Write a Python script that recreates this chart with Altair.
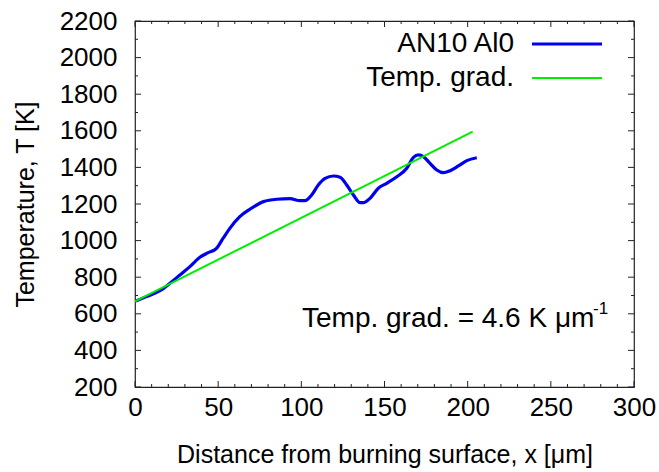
import altair as alt
import pandas as pd

# ---- data ----
series_names = ["AN10 Al0", "Temp. grad."]
curve_x = [0.6, 7, 15, 21, 27, 33, 39, 44, 49, 53, 57, 63, 69, 77.2, 85.2, 93.2, 99.2, 102.2,
           106.2, 110.2, 114.3, 119.3, 123.3, 127.3, 131.3, 135.3, 137.3, 141.3, 146.3, 151.3,
           157.4, 163.4, 167.4, 170.4, 173.4, 177.4, 181.4, 185.4, 189.4, 194.4, 199.5, 205.5]
curve_T = [670, 694, 726, 767, 812, 858, 909, 934, 958, 1013, 1067, 1131, 1171, 1213, 1226, 1229,
           1218, 1218, 1249, 1304, 1340, 1353, 1346, 1304, 1249, 1207, 1207, 1231, 1286, 1313,
           1349, 1395, 1455, 1468, 1459, 1422, 1386, 1371, 1382, 1408, 1437, 1453]
grad_x = [0, 203]
grad_T = [668, 1595]

x_major = [0, 50, 100, 150, 200, 250, 300]
x_minor = [v for v in range(0, 301, 10) if v % 50 != 0]
y_major = list(range(200, 2201, 200))
y_minor = list(range(300, 2200, 200))

W, H = 499, 366
FONT = "Liberation Sans"
FS_TICK = 26
FS_TITLE = 25
FS_TEXT = 28
BLUE = "#0000ee"
GREEN = "#00ee00"

xs = alt.Scale(domain=[0, 300], nice=False, zero=False)
ys = alt.Scale(domain=[200, 2200], nice=False, zero=False)

AX = alt.Axis(values=x_major, title="Distance from burning surface, x [μm]",
              ticks=False, domain=False, grid=False, labelPadding=7,
              titlePadding=22, format="d", labelOverlap=False, labelFlush=False)
AY = alt.Axis(values=y_major, title="Temperature, T [K]",
              ticks=False, domain=False, grid=False, labelPadding=18,
              titlePadding=21, format="d", labelOverlap=False, labelFlush=False)

def X():
    return alt.X("x:Q", scale=xs, axis=AX)

def Y():
    return alt.Y("T:Q", scale=ys, axis=AY)

df_curve = pd.DataFrame({"x": curve_x, "T": curve_T})
df_grad = pd.DataFrame({"x": grad_x, "T": grad_T})

curve = alt.Chart(df_curve).mark_line(color=BLUE, strokeWidth=3.2, interpolate="monotone").encode(
    x=X(), y=Y())
grad = alt.Chart(df_grad).mark_line(color=GREEN, strokeWidth=2).encode(x=X(), y=Y())

# inward ticks on all four sides
dxM = pd.DataFrame({"x": x_major})
dxm = pd.DataFrame({"x": x_minor})
dyM = pd.DataFrame({"T": y_major})
dym = pd.DataFrame({"T": y_minor})
TC = "#222222"

def xticks(d, L):
    b = alt.Chart(d).mark_rule(color=TC, strokeWidth=1).encode(
        x=X(), y=alt.value(H), y2=alt.value(H - L))
    t = alt.Chart(d).mark_rule(color=TC, strokeWidth=1).encode(
        x=X(), y=alt.value(0), y2=alt.value(L))
    return [b, t]

def yticks(d, L):
    l = alt.Chart(d).mark_rule(color=TC, strokeWidth=1).encode(
        y=Y(), x=alt.value(0), x2=alt.value(L))
    r = alt.Chart(d).mark_rule(color=TC, strokeWidth=1).encode(
        y=Y(), x=alt.value(W), x2=alt.value(W - L))
    return [l, r]

ticks = xticks(dxM, 6) + xticks(dxm, 3) + yticks(dyM, 6) + yticks(dym, 3)

# gnuplot-style key
key_y = [23, 57]
key_text1 = alt.Chart(pd.DataFrame({"name": [series_names[0]]})).mark_text(
    align="right", baseline="middle", font=FONT, fontSize=FS_TEXT, color="black").encode(
    text="name:N", x=alt.value(379), y=alt.value(key_y[0]))
key_text2 = alt.Chart(pd.DataFrame({"name": [series_names[1]]})).mark_text(
    align="right", baseline="middle", font=FONT, fontSize=FS_TEXT, color="black").encode(
    text="name:N", x=alt.value(379), y=alt.value(key_y[1]))
key_line1 = alt.Chart(pd.DataFrame({"a": [0]})).mark_rule(color=BLUE, strokeWidth=3).encode(
    x=alt.value(397), x2=alt.value(467), y=alt.value(key_y[0]))
key_line2 = alt.Chart(pd.DataFrame({"a": [0]})).mark_rule(color=GREEN, strokeWidth=2).encode(
    x=alt.value(397), x2=alt.value(467), y=alt.value(key_y[1]))

# annotation
ann_main = alt.Chart(pd.DataFrame({"t": ["Temp. grad. = 4.6 K μm"]})).mark_text(
    align="left", baseline="alphabetic", font=FONT, fontSize=FS_TEXT, color="black").encode(
    text="t:N", x=alt.value(167), y=alt.value(306))
ann_sup = alt.Chart(pd.DataFrame({"t": ["-1"]})).mark_text(
    align="left", baseline="alphabetic", font=FONT, fontSize=17, color="black").encode(
    text="t:N", x=alt.value(458), y=alt.value(293))

chart = alt.layer(curve, grad, *ticks, key_text1, key_text2, key_line1, key_line2,
                  ann_main, ann_sup).properties(
    width=W, height=H,
    background="white",
    autosize=alt.AutoSizeParams(type="none"),
    padding={"left": 135, "top": 21, "right": 25, "bottom": 85},
).configure_view(stroke="#222222", strokeWidth=1.2).configure_axis(
    labelFont=FONT, titleFont=FONT, labelFontSize=FS_TICK, titleFontSize=FS_TITLE,
    labelColor="black", titleColor="black", titleFontWeight="normal",
    labelOverlap=False,
)

chart.save("out.html", embed_options={"renderer": "svg", "actions": False})
